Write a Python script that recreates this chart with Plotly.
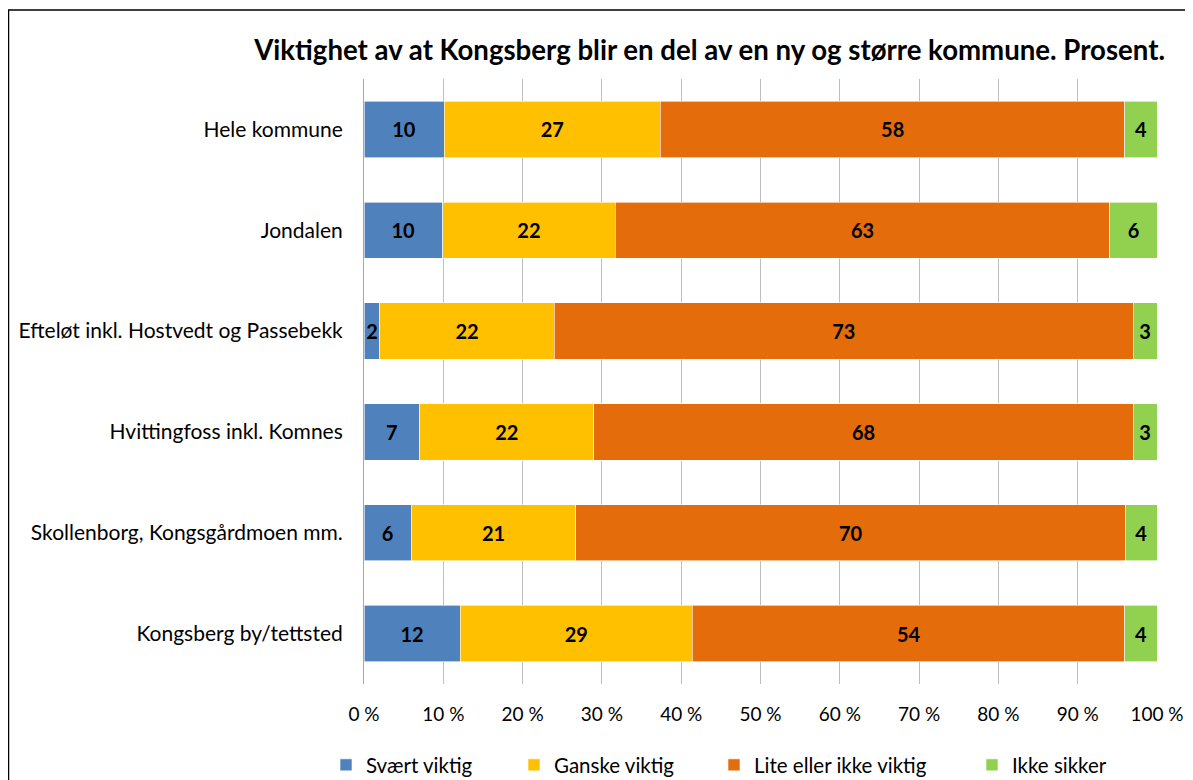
import plotly.graph_objects as go

categories = ["Hele kommune", "Jondalen", "Efteløt inkl. Hostvedt og Passebekk",
              "Hvittingfoss inkl. Komnes", "Skollenborg, Kongsgårdmoen mm.", "Kongsberg by/tettsted"]
svaert_viktig = [10, 10, 2, 7, 6, 12]
ganske_viktig = [27, 22, 22, 22, 21, 29]
lite_ikke_viktig = [58, 63, 73, 68, 70, 54]
ikke_sikker = [4, 6, 3, 3, 4, 4]

series = [
    ("Svært viktig", svaert_viktig, "#4F81BD"),
    ("Ganske viktig", ganske_viktig, "#FFC000"),
    ("Lite eller ikke viktig", lite_ikke_viktig, "#E46C0A"),
    ("Ikke sikker", ikke_sikker, "#92D050"),
]

FONT = "Lato"
W, H = 1193, 780
legend_names = ["legend", "legend2", "legend3", "legend4"]
legend_left_px = [318, 506, 706, 964]

fig = go.Figure()
for (name, vals, col), lg in zip(series, legend_names):
    fig.add_trace(go.Bar(
        y=categories, x=vals, name=name, orientation="h", legend=lg, showlegend=True,
        marker=dict(color=col, line=dict(color="white", width=0.6)),
        text=vals, texttemplate="<b>%{text}</b>", textposition="inside",
        insidetextanchor="middle", constraintext="none",
        textfont=dict(family=FONT, size=20, color="black"),
    ))

legend_layout = {}
for lg, lx in zip(legend_names, legend_left_px):
    legend_layout[lg] = dict(orientation="h", xref="container", yref="container",
                             x=lx / W, xanchor="left", y=1 - 757 / H, yanchor="middle",
                             font=dict(family=FONT, size=20.5, color="black"),
                             bgcolor="rgba(0,0,0,0)")

fig.update_layout(
    barmode="stack", barnorm="percent", bargap=0.44,
    width=W, height=H, showlegend=True,
    margin=dict(l=356, r=44, t=71, b=104, autoexpand=False),
    paper_bgcolor="white", plot_bgcolor="white",
    font=dict(family=FONT, size=18, color="black"),
    uniformtext=dict(minsize=20, mode="show"),
    title=dict(text="<b>Viktighet av at Kongsberg blir en del av en ny og større kommune. Prosent.</b>",
               x=1157 / W, xref="container", xanchor="right", y=1 - 42 / H, yanchor="middle",
               font=dict(family=FONT, size=27.6, color="black")),
    xaxis=dict(range=[0, 100], dtick=10, ticksuffix=" %", showgrid=True,
               gridcolor="#BFBFBF", gridwidth=1, zeroline=False, showline=False,
               tickfont=dict(family=FONT, size=19, color="black"), ticks="",
               ticklabelstandoff=17),
    yaxis=dict(autorange="reversed", showline=True, linecolor="#A6A6A6", linewidth=1,
               ticks="", tickfont=dict(family=FONT, size=21, color="black"), ticklabelstandoff=16),
    shapes=[dict(type="rect", xref="paper", yref="paper", x0=-0.4483, x1=1.2, y0=-0.3, y1=1.114,
                 line=dict(color="black", width=1.5), fillcolor="rgba(0,0,0,0)", layer="below")],
    **legend_layout,
)

fig.write_html("out.html")
